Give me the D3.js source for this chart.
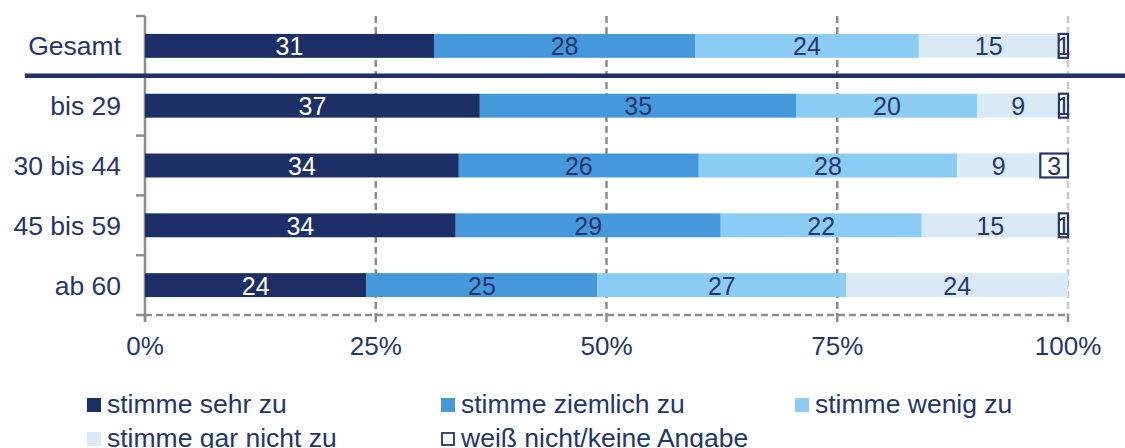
<!DOCTYPE html>
<html><head><meta charset="utf-8">
<script src="https://cdn.jsdelivr.net/npm/d3@7/dist/d3.min.js"></script>
<style>html,body{margin:0;padding:0;background:#fff;}svg{display:block;font-family:"Liberation Sans",Arial,sans-serif;}</style>
</head><body><svg id="c" width="1125" height="448"></svg>
<script>
const categories = ["Gesamt", "bis 29", "30 bis 44", "45 bis 59", "ab 60"];
const seriesNames = ["stimme sehr zu", "stimme ziemlich zu", "stimme wenig zu", "stimme gar nicht zu", "weiß nicht/keine Angabe"];
const sehrZu = [31, 37, 34, 34, 24];
const ziemlichZu = [28, 35, 26, 29, 25];
const wenigZu = [24, 20, 28, 22, 27];
const garNichtZu = [15, 9, 9, 15, 24];
const weissNicht = [1, 1, 3, 1, 0];
const tickValues = [0, 0.25, 0.5, 0.75, 1];
const tickLabels = ["0%", "25%", "50%", "75%", "100%"];

const seriesValues = [sehrZu, ziemlichZu, wenigZu, garNichtZu, weissNicht];
const fills = ["#1c2f66", "#4599db", "#8bccf5", "#d9eaf6", "#ffffff"];
const labelColors = ["#ffffff", "#243570", "#243570", "#243570", "#243570"];
const navy = "#243570";

const svg = d3.select("#c");
const x = d3.scaleLinear().domain([0, 1]).range([145, 1068]);
const y = d3.scaleBand().domain(categories).range([16, 315]).paddingInner(0.6).paddingOuter(0.3);

// gridlines
svg.append("g").selectAll("line").data(tickValues.slice(1)).join("line")
  .attr("x1", d => x(d)).attr("x2", d => x(d))
  .attr("y1", 16).attr("y2", 315)
  .attr("stroke", d => d === 1 ? "#c8c8c8" : "#8c8c8c")
  .attr("stroke-width", 2.5).attr("stroke-dasharray", "7,4");
// bottom dashed axis line
svg.append("line").attr("x1", x(0)).attr("x2", x(1)).attr("y1", 315).attr("y2", 315)
  .attr("stroke", "#8c8c8c").attr("stroke-width", 2.5).attr("stroke-dasharray", "7,4");
// bottom tick marks
svg.append("g").selectAll("line").data(tickValues).join("line")
  .attr("x1", d => x(d)).attr("x2", d => x(d)).attr("y1", 314).attr("y2", 322)
  .attr("stroke", "#8c8c8c").attr("stroke-width", 2.5);
// left axis
svg.append("line").attr("x1", x(0)).attr("x2", x(0)).attr("y1", 16).attr("y2", 322)
  .attr("stroke", "#8c8c8c").attr("stroke-width", 2.5);
const boundaries = categories.map(c => y(c) - y.step() * y.paddingInner() / 2).concat([315]);
svg.append("g").selectAll("line").data(boundaries).join("line")
  .attr("x1", 136).attr("x2", x(0)).attr("y1", d => d).attr("y2", d => d)
  .attr("stroke", "#8c8c8c").attr("stroke-width", 2.5);

// stacked data (normalized per row)
const rows = categories.map((c, i) => {
  const vals = seriesValues.map(s => s[i]);
  const total = d3.sum(vals);
  let acc = 0;
  return vals.map((v, k) => { const x0 = acc / total; acc += v; return {cat: c, k, v, x0, x1: acc / total}; });
});
const segs = rows.flat().filter(d => d.v > 0);

svg.append("g").selectAll("rect").data(segs).join("rect")
  .attr("x", d => x(d.x0)).attr("width", d => x(d.x1) - x(d.x0))
  .attr("y", d => y(d.cat)).attr("height", y.bandwidth())
  .attr("fill", d => fills[d.k])
  .attr("stroke", d => d.k === 4 ? navy : "none")
  .attr("stroke-width", 2.2);

svg.append("g").selectAll("text").data(segs).join("text")
  .attr("x", d => (x(d.x0) + x(d.x1)) / 2)
  .attr("y", d => y(d.cat) + y.bandwidth() / 2 + 9.5)
  .attr("text-anchor", "middle").attr("font-size", 25)
  .attr("fill", d => labelColors[d.k]).text(d => d.v);

// separator line under Gesamt
svg.append("line").attr("x1", 25).attr("x2", 1125)
  .attr("y1", boundaries[1]).attr("y2", boundaries[1])
  .attr("stroke", "#1f3067").attr("stroke-width", 4.5);

// category labels
svg.append("g").selectAll("text").data(categories).join("text")
  .attr("x", 121).attr("y", d => y(d) + y.bandwidth() / 2 + 9.5)
  .attr("text-anchor", "end").attr("font-size", 26.5).attr("fill", navy).text(d => d);

// x tick labels
svg.append("g").selectAll("text").data(tickValues).join("text")
  .attr("x", d => x(d)).attr("y", 355).attr("text-anchor", "middle")
  .attr("font-size", 26).attr("fill", navy).text((d, i) => tickLabels[i]);

// legend
const lg = svg.append("g").selectAll("g").data(seriesNames).join("g")
  .attr("transform", (d, i) => `translate(${87 + (i % 3) * 354},${398 + Math.floor(i / 3) * 34})`);
lg.append("rect").attr("x", 0).attr("y", 0)
  .attr("width", (d, i) => i === 4 ? 12 : 14).attr("height", (d, i) => i === 4 ? 12 : 14)
  .attr("transform", (d, i) => i === 4 ? "translate(1,1)" : null)
  .attr("fill", (d, i) => fills[i]).attr("stroke", (d, i) => i === 4 ? navy : "none").attr("stroke-width", 1.8);
lg.append("text").attr("x", 20).attr("y", 15).attr("font-size", 26.5).attr("fill", navy).text(d => d);
</script></body></html>
